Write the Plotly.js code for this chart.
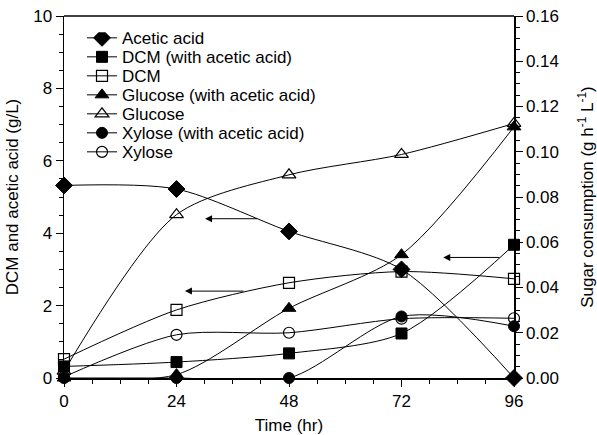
<!DOCTYPE html>
<html>
<head>
<meta charset="utf-8">
<script src="https://cdn.plot.ly/plotly-3.0.1.min.js"></script>
<style>html,body{margin:0;padding:0;background:#fff}#chart{width:597px;height:435px}</style>
</head>
<body>
<div id="chart"></div>
<script>
const timeHr = [0, 24, 48, 72, 96];
const aceticAcid = [5.32, 5.22, 4.05, 3.0, 0.0];
const dcmWithAcid = [0.32, 0.44, 0.68, 1.23, 3.68];
const dcm = [0.52, 1.88, 2.63, 2.94, 2.74];
const glucoseWithAcid = [0.0, 0.0015, 0.0308, 0.0545, 0.111];
const glucose = [0.003, 0.0722, 0.0898, 0.0988, 0.1125];
const xyloseWithAcid = [0.0, 0.0, 0.0, 0.0272, 0.0229];
const xylose = [0.0005, 0.0191, 0.0200, 0.0262, 0.0264];
const seriesNames = ["Acetic acid", "DCM (with acetic acid)", "DCM", "Glucose (with acetic acid)", "Glucose", "Xylose (with acetic acid)", "Xylose"];

const lineStyle = {color: '#000', width: 1, shape: 'spline', smoothing: 0.8};
function tr(name, y, axis, sym, size) {
  return {
    x: timeHr, y: y, name: name, yaxis: axis, type: 'scatter', mode: 'lines+markers',
    line: lineStyle, cliponaxis: false,
    marker: {symbol: sym, size: size, color: '#000', line: {color: '#000', width: 1}}
  };
}
const data = [
  tr(seriesNames[0], aceticAcid, 'y', 'diamond', 13),
  tr(seriesNames[1], dcmWithAcid, 'y', 'square', 11),
  tr(seriesNames[2], dcm, 'y', 'square-open', 11),
  tr(seriesNames[3], glucoseWithAcid, 'y2', 'triangle-up', 12),
  tr(seriesNames[4], glucose, 'y2', 'triangle-up-open', 12),
  tr(seriesNames[5], xyloseWithAcid, 'y2', 'circle', 11),
  tr(seriesNames[6], xylose, 'y2', 'circle-open', 11)
];
[2, 4, 6].forEach(i => { data[i].marker.line = {width: 1.2}; });

function arrow(xHead, xTail, y) {
  return {x: xHead, y: y, xref: 'x', yref: 'y', ax: xTail, ay: y, axref: 'x', ayref: 'y',
    text: '', showarrow: true, arrowhead: 2, arrowsize: 1.4, arrowwidth: 1, arrowcolor: '#000'};
}

const font = {family: 'Liberation Sans, Arial, sans-serif', size: 17, color: '#000'};
const layout = {
  width: 597, height: 435,
  margin: {l: 64, r: 83, t: 16, b: 57},
  paper_bgcolor: '#fff', plot_bgcolor: '#fff',
  font: font,
  showlegend: true,
  legend: {x: 0.04, y: 0.955, xanchor: 'left', yanchor: 'top', bgcolor: 'rgba(0,0,0,0)',
    font: {family: font.family, size: 17, color: '#000'}, tracegroupgap: 0, itemwidth: 30},
  xaxis: {range: [0, 96], tickvals: [0, 24, 48, 72, 96], ticks: 'outside', ticklen: 7, tickwidth: 1,
    tickcolor: '#000', showline: true, linecolor: '#000', linewidth: 1.5, mirror: false, showgrid: false, zeroline: false,
    minor: {dtick: 6, ticks: 'outside', ticklen: 4, tickcolor: '#000'},
    title: {text: 'Time (hr)', font: {family: font.family, size: 17}, standoff: 10}},
  yaxis: {range: [0, 10], dtick: 2, ticks: 'outside', ticklen: 7, tickcolor: '#000', showline: true,
    linecolor: '#000', linewidth: 1.5, showgrid: false, zeroline: false,
    minor: {dtick: 0.5, ticks: 'outside', ticklen: 4, tickcolor: '#000'},
    title: {text: 'DCM and acetic acid (g/L)', font: {family: font.family, size: 17}, standoff: 10}},
  yaxis2: {range: [0, 0.16], dtick: 0.02, tickformat: '.2f', overlaying: 'y', side: 'right', ticks: 'outside',
    ticklen: 7, tickcolor: '#000', showline: true, linecolor: '#000', linewidth: 1.5, showgrid: false, zeroline: false,
    minor: {dtick: 0.005, ticks: 'outside', ticklen: 4, tickcolor: '#000'},
    title: {text: 'Sugar consumption (g h<sup>-1</sup> L<sup>-1</sup>)', font: {family: font.family, size: 17}, standoff: 23}},
  shapes: [{type: 'line', xref: 'paper', yref: 'paper', x0: 0, x1: 1, y0: 1, y1: 1, line: {color: '#000', width: 1.5}}],
  annotations: [arrow(30.1, 41.5, 4.4), arrow(25.8, 38.6, 2.4), arrow(80.9, 93.2, 3.33)]
};
function tightenLegend() {
  const items = document.querySelectorAll('#chart .legend .traces');
  const spacing = 19;
  let x0 = null, y0 = null;
  items.forEach((el, i) => {
    const m = /translate\(\s*([-\d.]+)[ ,]+([-\d.]+)\s*\)/.exec(el.getAttribute('transform') || '');
    if (!m) return;
    if (i === 0) { x0 = parseFloat(m[1]); y0 = parseFloat(m[2]) - 12; }
    el.setAttribute('transform', 'translate(' + x0 + ',' + (y0 + i * spacing) + ')');
  });
}
Plotly.newPlot('chart', data, layout, {displayModeBar: false, staticPlot: true}).then(tightenLegend);
</script>
</body>
</html>
